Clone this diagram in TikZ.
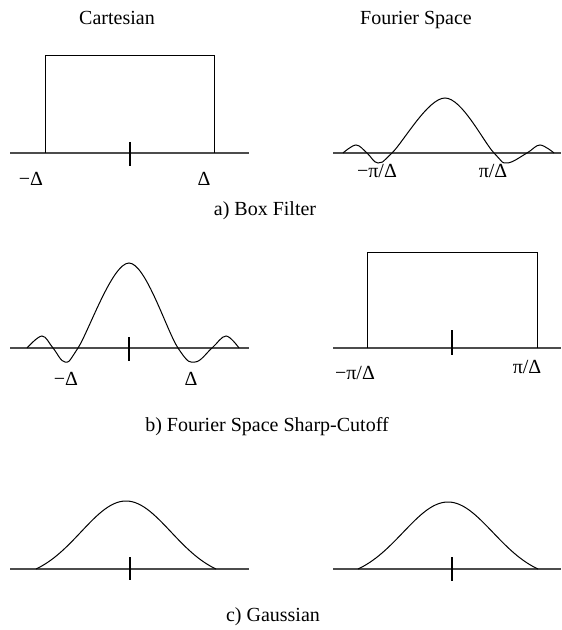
\documentclass[tikz,border=0pt]{standalone}
\usepackage{fontspec}
\setmainfont{Liberation Serif}
\begin{document}
\begin{tikzpicture}[x=0.6pt, y=-0.6pt, font=\fontsize{12}{14}\selectfont,
  axisline/.style={black!70, line width=0.7pt},
  curve/.style={black, line width=0.6pt},
  ticks/.style={black, line width=0.7pt},
  lbl/.style={anchor=base, inner sep=0pt}]

  \useasboundingbox (0,0) rectangle (561,630);

  % --- 1. 列の見出し ---
  \node[lbl] (titleCart) at (117,25) {Cartesian};
  \node[lbl] (titleFour) at (416,25) {Fourier Space};

  % --- 2. a) Box Filter ---
  % 左: 矩形
  \draw[axisline] (10,153) -- (249,153);
  \draw[curve] (45,153) -- (45,56) -- (214,56) -- (214,153);
  \draw[ticks] (130,142) -- (130,166);
  \node[lbl] (aLeftMinus) at (31,185) {−Δ};
  \node[lbl] (aLeftPlus) at (204,185) {Δ};

  % 右: sinc 型
  \draw[axisline] (333,153) -- (561,153);
  \draw[curve] plot[smooth, tension=0.6] coordinates {(343,153) (356,145) (367,153)
    (378,163) (392,153) (445,98) (494,153) (507,163) (527,153) (540,145) (554,153)};
  \node[lbl] (aRightMinus) at (377,178) {−π/Δ};
  \node[lbl] (aRightPlus) at (493,178) {π/Δ};

  \node[lbl] (capA) at (265,215) {a) Box Filter};

  % --- 3. b) Fourier Space Sharp-Cutoff ---
  % 左: sinc 型
  \draw[axisline] (10,348) -- (249,348);
  \draw[curve] plot[smooth, tension=0.6] coordinates {(27,348) (42,336) (53,348)
    (65,362) (78,348) (129,263) (178,348) (195,362) (212,348) (226,336) (239,348)};
  \draw[ticks] (129,337) -- (129,361);
  \node[lbl] (bLeftMinus) at (66,385) {−Δ};
  \node[lbl] (bLeftPlus) at (191,385) {Δ};

  % 右: 矩形
  \draw[axisline] (333,348) -- (561,348);
  \draw[curve] (367,348) -- (367,252) -- (537,252) -- (537,348);
  \draw[ticks] (452,330) -- (452,355);
  \node[lbl] (bRightMinus) at (355,379) {−π/Δ};
  \node[lbl] (bRightPlus) at (527,373) {π/Δ};

  \node[lbl] (capB) at (267,431) {b) Fourier Space Sharp-Cutoff};

  % --- 4. c) Gaussian ---
  % 端で 0 になるよう少しずらしたガウス関数
  \draw[axisline] (10,569) -- (249,569);
  \draw[curve] plot[domain=-90:90, samples=61]
    ({126+\x}, {569-68*(exp(-\x*\x/4050)-0.1353)/0.8647});
  \draw[ticks] (130,557) -- (130,580);

  \draw[axisline] (333,569) -- (561,569);
  \draw[curve] plot[domain=-90:90, samples=61]
    ({448+\x}, {569-67*(exp(-\x*\x/4050)-0.1353)/0.8647});
  \draw[ticks] (452,557) -- (452,581);

  \node[lbl] (capC) at (273,621) {c) Gaussian};

\end{tikzpicture}
\end{document}
